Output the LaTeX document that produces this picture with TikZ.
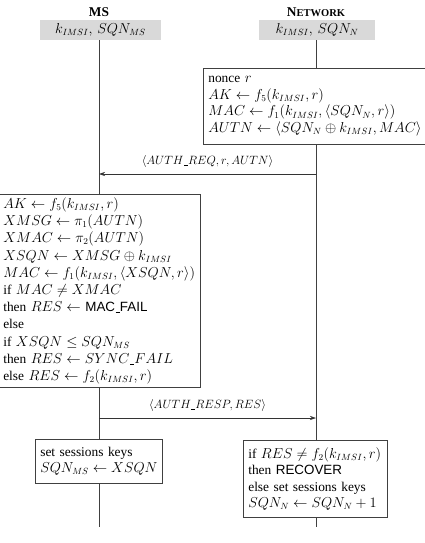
\documentclass[tikz,border=0pt]{standalone}
\usepackage{fontspec}
\setmainfont{Liberation Serif}
\setsansfont{Liberation Sans}
\usetikzlibrary{arrows.meta}
\newcommand{\usc}{\kern0.03em\rule[-0.12ex]{0.3em}{0.4pt}\kern0.03em}
\begin{document}
\begin{tikzpicture}[x=1pt,y=-1pt,
  every node/.style={font=\fontsize{13.4}{16.5}\selectfont,
    execute at begin node={\relpenalty=10000\binoppenalty=10000}},
  headbox/.style={fill=black!15, minimum height=20pt, inner sep=0pt},
  titletext/.style={inner sep=0pt},
  procbox/.style={draw=black!75, line width=0.6pt, anchor=north west, align=left, inner xsep=5pt, inner ysep=0pt},
  life/.style={draw=black!75, line width=0.6pt},
  msg/.style={draw=black!80, line width=0.6pt, -{Stealth[length=6pt,width=4pt]}},
  msglabel/.style={inner sep=0pt, anchor=south, font=\fontsize{12.4}{15}\selectfont}]
\useasboundingbox (0,0) rectangle (424,543);

% headers
\node[titletext] (msT) at (99,12) {\textbf{MS}};
\node[titletext] (netT) at (316,12) {\textbf{N{\fontsize{10.5}{12}\selectfont ETWORK}}};
\node[headbox, minimum width=121pt] (msH) at (100.5,30) {$k_{IMSI},\, SQN_{MS}$};
\node[headbox, minimum width=116pt] (netH) at (317,30) {$k_{IMSI},\, SQN_{N}$};

% lifeline end points
\coordinate (msEnd) at (99,527);
\coordinate (netEnd) at (316,527);

% network box 1
\node[procbox, minimum width=232pt, text width=222pt, minimum height=76pt] (nb1) at (203,68) {%
nonce $r$\\
$AK \leftarrow f_5(k_{IMSI}, r)$\\
$MAC \leftarrow f_1(k_{IMSI}, \langle SQN_N, r\rangle)$\\
$AUTN \leftarrow \langle SQN_N \oplus k_{IMSI}, MAC\rangle$};

% MS box 1
\node[procbox, font=\fontsize{13.4}{17.2}\selectfont, minimum width=202pt, text width=192pt, minimum height=193pt] (mb1) at (-2,194) {%
$AK \leftarrow f_5(k_{IMSI}, r)$\\
$XMSG \leftarrow \pi_1(AUTN)$\\
$XMAC \leftarrow \pi_2(AUTN)$\\
$XSQN \leftarrow XMSG \oplus k_{IMSI}$\\
$MAC \leftarrow f_1(k_{IMSI}, \langle XSQN, r\rangle)$\\
if $MAC \neq XMAC$\\
then $RES \leftarrow$ \textsf{MAC\usc FAIL}\\
else\\
if $XSQN \leq SQN_{MS}$\\
then $RES \leftarrow SYNC\usc FAIL$\\
else $RES \leftarrow f_2(k_{IMSI}, r)$};

% MS box 2
\node[procbox, minimum width=127pt, text width=117pt, minimum height=44pt] (mb2) at (35,439) {%
set sessions keys\\
\mbox{$SQN_{MS} \leftarrow XSQN$}};

% network box 2
\node[procbox, minimum width=144pt, text width=134pt, minimum height=77pt] (nb2) at (243,440) {%
if $RES \neq f_2(k_{IMSI}, r)$\\
then \textsf{RECOVER}\\
else set sessions keys\\
$SQN_N \leftarrow SQN_N + 1$};

% lifelines
\path[life] (msH.south -| msEnd) -- (msEnd |- mb1.north);
\path[life] (msEnd |- mb1.south) -- (msEnd |- mb2.north);
\path[life] (msEnd |- mb2.south) -- (msEnd);
\path[life] (netH.south -| netEnd) -- (netEnd |- nb1.north);
\path[life] (netEnd |- nb1.south) -- (netEnd |- nb2.north);
\path[life] (netEnd |- nb2.south) -- (netEnd);

% messages
\coordinate (req) at (0,174);
\coordinate (resp) at (0,418);
\draw[msg] (netEnd |- req) -- (msEnd |- req) node[msglabel, pos=0.5, yshift=6pt] (reqL) {$\langle AUTH\usc REQ, r, AUTN\rangle$};
\draw[msg] (msEnd |- resp) -- (netEnd |- resp) node[msglabel, pos=0.5, yshift=6pt] (respL) {$\langle AUTH\usc RESP, RES\rangle$};
\end{tikzpicture}
\end{document}
